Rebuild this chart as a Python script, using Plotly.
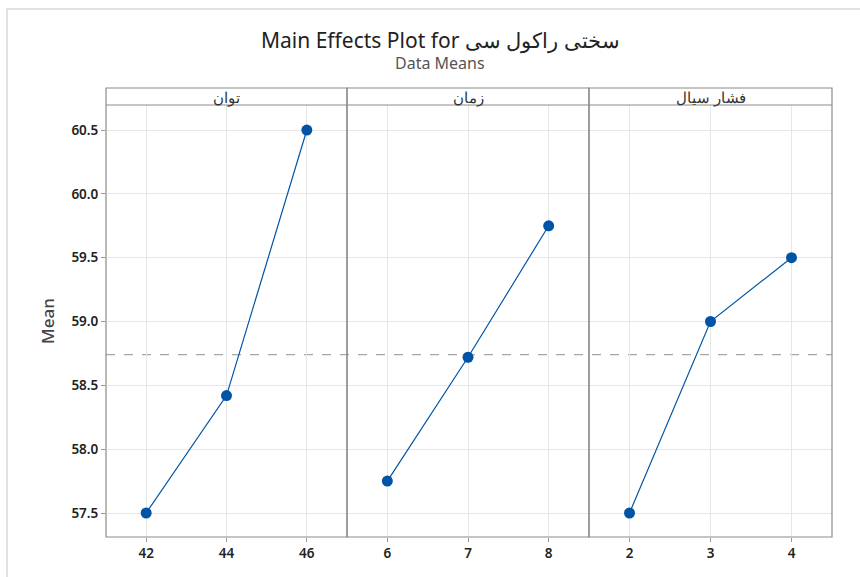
import plotly.graph_objects as go
from plotly.subplots import make_subplots

# Factor names (panel headers) and their levels
factors = ["توان", "زمان", "فشار سیال"]
levels_power = [42, 44, 46]
levels_time = [6, 7, 8]
levels_pressure = [2, 3, 4]

# Mean response at each level
means_power = [57.5, 58.42, 60.5]
means_time = [57.75, 58.72, 59.75]
means_pressure = [57.5, 59.0, 59.5]

grand_mean = 58.74

y_ticks = [57.5, 58.0, 58.5, 59.0, 59.5, 60.0, 60.5]

levels = [levels_power, levels_time, levels_pressure]
means = [means_power, means_time, means_pressure]
x_ranges = [[41, 47], [5.5, 8.5], [1.5, 4.5]]

W, H = 860, 577
ml, mr, mt, mb = 106, 28, 88, 40
plot_h = H - mt - mb
strip_px = 17
y_top = 1 - strip_px / plot_h

fig = make_subplots(rows=1, cols=3, shared_yaxes=True, horizontal_spacing=0)

blue = "#0054a6"
for i, (xs, ys) in enumerate(zip(levels, means), start=1):
    fig.add_trace(
        go.Scatter(
            x=xs, y=ys, mode="lines+markers",
            line=dict(color=blue, width=1.2),
            marker=dict(color=blue, size=11),
            showlegend=False, hoverinfo="x+y",
        ),
        row=1, col=i,
    )

domains = [[0, 241 / 726], [241 / 726, 483 / 726], [483 / 726, 1]]
tick_font = dict(family="Noto Sans", size=13.5, color="#222222", weight=600)
for i in range(3):
    ax = "xaxis" if i == 0 else f"xaxis{i + 1}"
    fig.layout[ax].update(
        domain=domains[i], range=x_ranges[i],
        tickvals=levels[i], ticktext=[str(v) for v in levels[i]],
        showgrid=True, gridcolor="#e6e6e6", gridwidth=1,
        zeroline=False, showline=False,
        ticks="outside", ticklen=4, tickcolor="#999999",
        tickfont=tick_font,
    )
    yax = "yaxis" if i == 0 else f"yaxis{i + 1}"
    fig.layout[yax].update(
        domain=[0, y_top], range=[57.312, 60.696],
        tickvals=y_ticks, ticktext=[f"{v:.1f}" for v in y_ticks],
        showgrid=True, gridcolor="#e6e6e6", gridwidth=1,
        zeroline=False, showline=False,
        ticks="outside" if i == 0 else "", ticklen=4, tickcolor="#999999",
        tickfont=tick_font,
        showticklabels=(i == 0),
    )

fig.update_yaxes(
    title=dict(text="Mean", font=dict(family="Noto Sans", size=17, color="#444444", weight=500), standoff=12),
    row=1, col=1,
)

shapes = []
# Grand-mean reference line across all panels
shapes.append(dict(
    type="line", xref="paper", yref="y", x0=0, x1=1, y0=grand_mean, y1=grand_mean,
    line=dict(color="#a6a6a6", width=1.2, dash="dash"), layer="below",
))
# Panel frames and strip headers
for i in range(3):
    xr = "x domain" if i == 0 else f"x{i + 1} domain"
    shapes.append(dict(
        type="rect", xref=xr, yref="paper", x0=0, x1=1, y0=0, y1=1,
        line=dict(color="#8c8c8c", width=1.2), fillcolor="rgba(0,0,0,0)",
    ))
shapes.append(dict(
    type="line", xref="paper", yref="paper", x0=0, x1=1, y0=y_top, y1=y_top,
    line=dict(color="#8c8c8c", width=1.2),
))
# Outer page frame (top and left edges)
shapes.append(dict(
    type="line", xref="paper", yref="paper",
    x0=(6 - ml) / (W - ml - mr), x1=(W - ml) / (W - ml - mr),
    y0=(H - mb - 9) / plot_h, y1=(H - mb - 9) / plot_h,
    line=dict(color="#d9d9d9", width=1.5),
))
shapes.append(dict(
    type="line", xref="paper", yref="paper",
    x0=(7 - ml) / (W - ml - mr), x1=(7 - ml) / (W - ml - mr),
    y0=(H - mb - 9) / plot_h, y1=-mb / plot_h,
    line=dict(color="#d9d9d9", width=1.5),
))

annotations = []
for i, name in enumerate(factors):
    xr = "x domain" if i == 0 else f"x{i + 1} domain"
    annotations.append(dict(
        text=name, xref=xr, yref="paper", x=0.5, y=(1 + y_top) / 2,
        showarrow=False, xanchor="center", yanchor="middle",
        font=dict(family="Noto Sans", size=15, color="#333333"),
    ))
annotations.append(dict(
    text="Main Effects Plot for سختی راکول سی", xref="paper", yref="paper",
    x=(440 - ml) / (W - ml - mr), y=(H - mb - 40) / plot_h,
    showarrow=False, xanchor="center", yanchor="middle",
    font=dict(family="Noto Sans", size=21, color="#222222"),
))
annotations.append(dict(
    text="Data Means", xref="paper", yref="paper",
    x=(440 - ml) / (W - ml - mr), y=(H - mb - 63) / plot_h,
    showarrow=False, xanchor="center", yanchor="middle",
    font=dict(family="Noto Sans", size=16, color="#555555"),
))

fig.update_layout(
    width=W, height=H,
    margin=dict(l=ml, r=mr, t=mt, b=mb),
    paper_bgcolor="white", plot_bgcolor="white",
    shapes=shapes, annotations=annotations,
    showlegend=False,
)

fig.write_html("out.html")
